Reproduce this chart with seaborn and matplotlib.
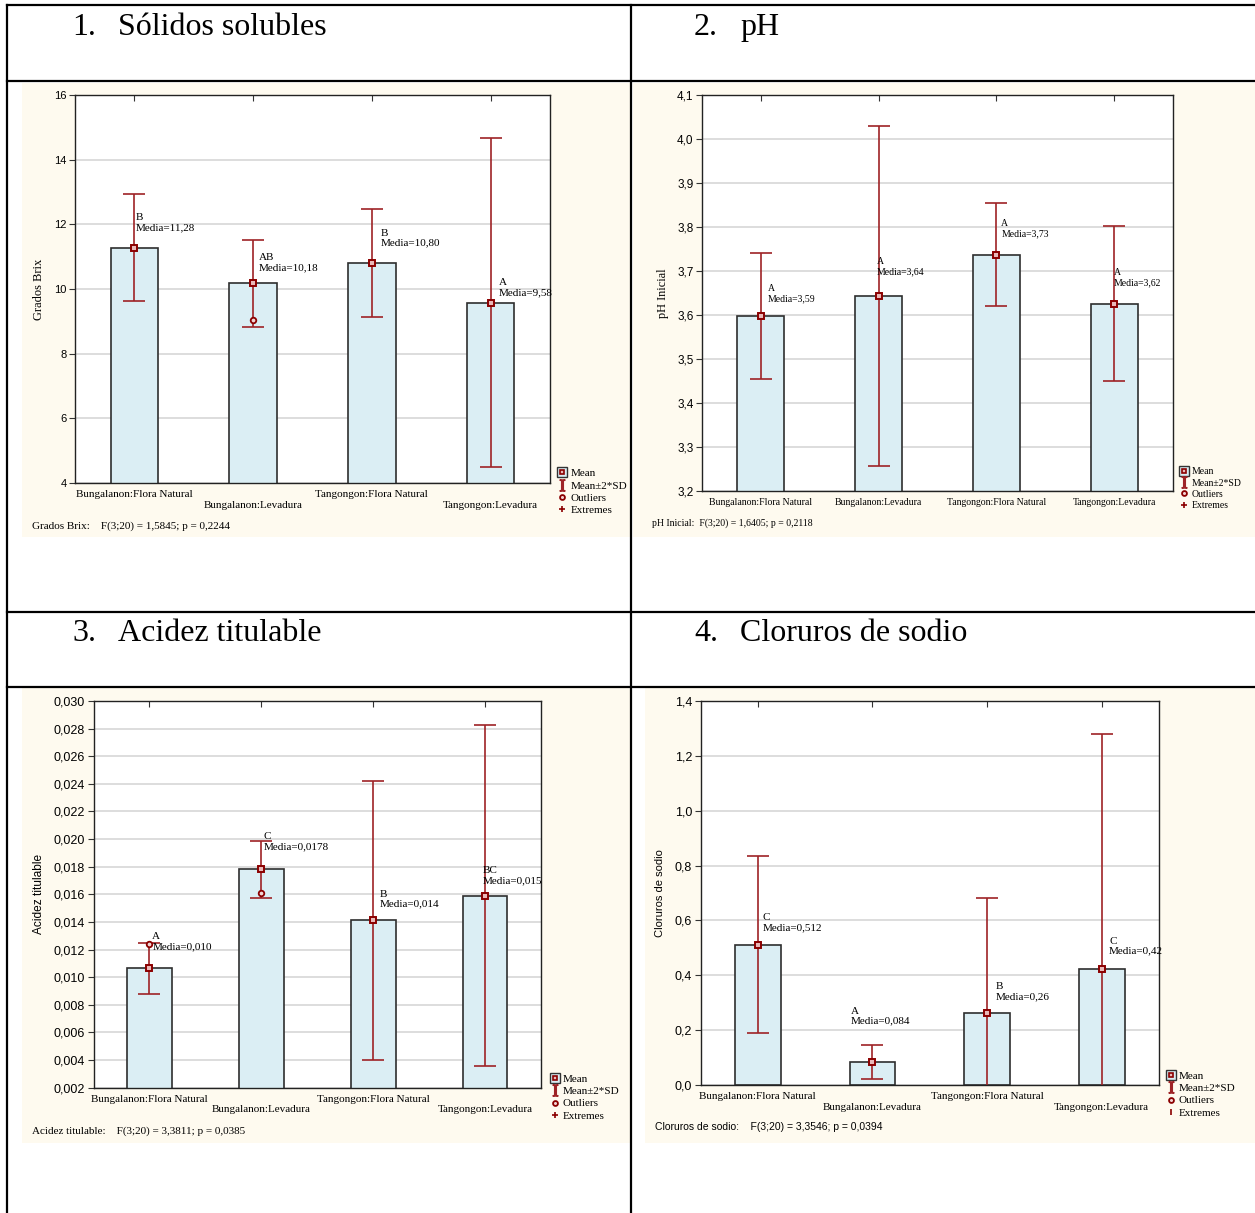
import math

import numpy as np
import pandas as pd
import seaborn as sns
import matplotlib

matplotlib.use("Agg")
import matplotlib.pyplot as plt
from matplotlib.lines import Line2D
from matplotlib.patches import Rectangle
from matplotlib.ticker import FixedLocator, FuncFormatter

# ---------------------------------------------------------------- data
categories = [
    "Bungalanon:Flora Natural",
    "Bungalanon:Levadura",
    "Tangongon:Flora Natural",
    "Tangongon:Levadura",
]

# 1. Sólidos solubles (grados Brix)
brix_mean = [11.28, 10.18, 10.80, 9.58]
brix_two_sd = [1.65, 1.34, 1.67, 5.08]
brix_letters = ["B", "AB", "B", "A"]
brix_decimals = [2, 2, 2, 2]
brix_outlier_group = [1]
brix_outlier_value = [9.04]
brix_anova = "Grados Brix:    F(3;20) = 1,5845; p = 0,2244"

# 2. pH inicial
ph_mean = [3.598, 3.643, 3.7375, 3.626]
ph_two_sd = [0.143, 0.387, 0.1175, 0.176]
ph_letters = ["A", "A", "A", "A"]
ph_decimals = [2, 2, 2, 2]
ph_outlier_group = []
ph_outlier_value = []
ph_anova = "pH Inicial:  F(3;20) = 1,6405; p = 0,2118"

# 3. Acidez titulable
acid_mean = [0.01065, 0.0178, 0.01413, 0.0159]
acid_two_sd = [0.00183, 0.00205, 0.0101, 0.01233]
acid_letters = ["A", "C", "B", "BC"]
acid_decimals = [3, 4, 3, 3]
acid_outlier_group = [0, 1]
acid_outlier_value = [0.01243, 0.01607]
acid_anova = "Acidez titulable:    F(3;20) = 3,3811; p = 0,0385"

# 4. Cloruros de sodio
nacl_mean = [0.512, 0.0845, 0.264, 0.424]
nacl_two_sd = [0.322, 0.0625, 0.417, 0.857]
nacl_letters = ["C", "A", "B", "C"]
nacl_decimals = [3, 3, 2, 2]
nacl_outlier_group = []
nacl_outlier_value = []
nacl_anova = "Cloruros de sodio:    F(3;20) = 3,3546; p = 0,0394"

# ---------------------------------------------------------------- style
W, H = 1255, 1213
SERIF = ["Liberation Serif", "DejaVu Serif"]
SANS = ["Liberation Sans", "DejaVu Sans"]
CREAM = "#fefaef"
BAR_FILL = "#dbeef4"
BAR_EDGE = "#2e2e2e"
ERR = "#9e2326"
DARK_RED = "#8b0000"
GRID = "#dadada"

plt.rcParams["font.family"] = SANS
plt.rcParams["mathtext.fontset"] = "stix"


def fig_rect(l, t, r, b):
    return [l / W, 1 - b / H, (r - l) / W, (b - t) / H]


def comma(v, d):
    return f"{v:.{d}f}".replace(".", ",")


def truncated(v, d):
    return comma(math.floor(v * 10 ** d + 1e-6) / 10 ** d, d)


panels = [
    dict(num="1.", title="Sólidos solubles", head=(72, 118, 35),
         bg=(22, 83, 630, 537), box=(75, 95, 550, 483),
         mean=brix_mean, sd=brix_two_sd, letters=brix_letters, dec=brix_decimals,
         og=brix_outlier_group, ov=brix_outlier_value,
         ylim=(4, 16), step=2, ydec=0,
         ylabel="Grados Brix", yfam=SERIF, ysize=9, ylx=38.7,
         tick_size=8, cat_size=8, stagger=True, note_size=8,
         note_dx=[0.013, 0.05, 0.076, 0.067], note_y=[12.06, 10.81, 11.575, 10.035],
         leg=(559, 468.5), leg_size=8, ext="+",
         anova=brix_anova, an_xy=(32, 525.7), an_fam=SERIF, an_size=8),
    dict(num="2.", title="pH", head=(694, 740, 35),
         bg=(633, 83, 1255, 537), box=(702, 95, 1173, 491),
         mean=ph_mean, sd=ph_two_sd, letters=ph_letters, dec=ph_decimals,
         og=ph_outlier_group, ov=ph_outlier_value,
         ylim=(3.2, 4.1), step=0.1, ydec=1,
         ylabel="pH Inicial", yfam=SERIF, ysize=8.8, ylx=662.7,
         tick_size=8.5, cat_size=7, stagger=False, note_size=7,
         note_dx=[0.059, -0.013, 0.042, 0.0], note_y=[3.648, 3.7095, 3.7965, 3.685],
         leg=(1181.5, 467.5), leg_size=7, ext="+",
         anova=ph_anova, an_xy=(652, 522.7), an_fam=SERIF, an_size=7),
    dict(num="3.", title="Acidez titulable", head=(72, 118, 641),
         bg=(22, 688, 630, 1143), box=(93.5, 701, 541, 1087.7),
         mean=acid_mean, sd=acid_two_sd, letters=acid_letters, dec=acid_decimals,
         og=acid_outlier_group, ov=acid_outlier_value,
         ylim=(0.002, 0.030), step=0.002, ydec=3,
         ylabel="Acidez titulable", yfam=SANS, ysize=8.6, ylx=38.7,
         tick_size=9, cat_size=8, stagger=True, note_size=8,
         note_dx=[0.025, 0.022, 0.06, -0.022],
         note_y=[0.012575, 0.019825, 0.01565, 0.017355],
         leg=(551.5, 1074.2), leg_size=8, ext="+",
         anova=acid_anova, an_xy=(31.7, 1130.7), an_fam=SERIF, an_size=8),
    dict(num="4.", title="Cloruros de sodio", head=(694, 740, 641),
         bg=(645, 688, 1255, 1143), box=(700.5, 701, 1159, 1085),
         mean=nacl_mean, sd=nacl_two_sd, letters=nacl_letters, dec=nacl_decimals,
         og=nacl_outlier_group, ov=nacl_outlier_value,
         ylim=(0.0, 1.4), step=0.2, ydec=1,
         ylabel="Cloruros de sodio", yfam=SANS, ysize=8, ylx=660,
         tick_size=9, cat_size=8, stagger=True, note_size=8,
         note_dx=[0.045, -0.19, 0.074, 0.064], note_y=[0.592, 0.251, 0.3406, 0.506],
         leg=(1167.5, 1071.2), leg_size=8, ext="|",
         anova=nacl_anova, an_xy=(654.7, 1126.7), an_fam=SANS, an_size=7.5),
]

fig = plt.figure(figsize=(W / 100, H / 100), dpi=100)
fig.patch.set_facecolor("white")

# table grid
def hline(y, x0=7, x1=W):
    fig.add_artist(Line2D([x0 / W, x1 / W], [1 - y / H, 1 - y / H],
                          transform=fig.transFigure, color="black", lw=1.6, zorder=-1))


def vline(x, y0=5, y1=H):
    fig.add_artist(Line2D([x / W, x / W], [1 - y0 / H, 1 - y1 / H],
                          transform=fig.transFigure, color="black", lw=1.6, zorder=-1))


for y in (5, 81, 612, 687):
    hline(y)
vline(7)
vline(631)

for p in panels:
    nx, tx, by = p["head"]
    fig.text(nx / W, 1 - by / H, p["num"], family=SERIF, fontsize=23, va="baseline")
    fig.text(tx / W, 1 - by / H, p["title"], family=SERIF, fontsize=23, va="baseline")

    bx0, by0, bx1, by1 = p["bg"]
    fig.add_artist(Rectangle((bx0 / W, 1 - by1 / H), (bx1 - bx0) / W, (by1 - by0) / H,
                             transform=fig.transFigure, facecolor=CREAM,
                             edgecolor="none", zorder=-2))

    l, t, r, b = p["box"]
    ax = fig.add_axes(fig_rect(l, t, r, b))
    ax.set_facecolor("white")

    df = pd.DataFrame({"grupo": categories, "valor": p["mean"]})
    sns.barplot(data=df, x="grupo", y="valor", ax=ax, color=BAR_FILL, saturation=1,
                edgecolor=BAR_EDGE, linewidth=1.2, width=0.4, errorbar=None, zorder=2)

    xs = np.arange(len(categories))
    ax.errorbar(xs, p["mean"], yerr=p["sd"], fmt="none", ecolor=ERR, elinewidth=1.2,
                capsize=8, capthick=1.2, zorder=3)
    ax.plot(xs, p["mean"], ls="none", marker="s", ms=4.2, mfc="#e9b9b9",
            mec=DARK_RED, mew=1.4, zorder=4)
    if p["og"]:
        ax.plot(p["og"], p["ov"], ls="none", marker="o", ms=4, mfc="#f2d4d4",
                mec=DARK_RED, mew=1.3, zorder=4)

    for i in range(len(categories)):
        txt = f"{p['letters'][i]}\nMedia={truncated(p['mean'][i], p['dec'][i])}"
        ax.text(i + p["note_dx"][i], p["note_y"][i], txt, ha="left", va="center",
                family=SERIF, fontsize=p["note_size"], linespacing=1.15, zorder=5)

    lo, hi = p["ylim"]
    ax.set_ylim(lo, hi)
    ticks = np.round(np.arange(lo, hi + p["step"] / 2, p["step"]), 6)
    ax.yaxis.set_major_locator(FixedLocator(ticks))
    ax.yaxis.set_major_formatter(FuncFormatter(lambda v, pos, d=p["ydec"]: comma(v, d)))
    ax.yaxis.grid(True, color=GRID, lw=1.3, zorder=0)
    ax.set_axisbelow(True)

    labels = [c if (i % 2 == 0 or not p["stagger"]) else "\n" + c
              for i, c in enumerate(categories)]
    ax.set_xticks(xs)
    ax.set_xticklabels(labels, family=SERIF, fontsize=p["cat_size"], linespacing=1.25)
    ax.set_xlim(-0.5, len(categories) - 0.5)
    ax.set_xlabel("")

    for lab in ax.get_yticklabels():
        lab.set_fontsize(p["tick_size"])
        lab.set_family(SANS)
    ax.tick_params(axis="y", direction="out", length=4, width=0.8, pad=2, color="#333")
    ax.tick_params(axis="x", direction="in", length=4, width=0.8, top=True, pad=5,
                   color="#333")
    for s in ax.spines.values():
        s.set_color("#222")
        s.set_linewidth(1.0)

    ax.set_ylabel(p["ylabel"], family=p["yfam"], fontsize=p["ysize"])
    ax.yaxis.label.set_va("center")
    ax.yaxis.set_label_coords((p["ylx"] - l) / (r - l), 0.5)

    mean_h = (Line2D([], [], ls="none", marker="s", ms=7, mfc=BAR_FILL, mec="#333", mew=1),
              Line2D([], [], ls="none", marker="s", ms=3.5, mfc="#e9b9b9",
                     mec=DARK_RED, mew=1.2))
    sd_h = Line2D([], [], ls="none", marker=r"$\mathrm{I}$", ms=8, color=ERR)
    out_h = Line2D([], [], ls="none", marker="o", ms=3.5, mfc="#f2d4d4",
                   mec=DARK_RED, mew=1.3)
    ext_h = Line2D([], [], ls="none", marker=p["ext"], ms=4, mec=DARK_RED, mew=1.2)
    lx, ly = p["leg"]
    ax.legend([mean_h, sd_h, out_h, ext_h], ["Mean", "Mean±2*SD", "Outliers", "Extremes"],
              loc="upper left", bbox_to_anchor=(lx / W, 1 - ly / H),
              bbox_transform=fig.transFigure, frameon=False, borderpad=0,
              borderaxespad=0, handlelength=0.6, handletextpad=0.43,
              labelspacing=0.22, prop={"family": SERIF, "size": p["leg_size"]})

    axx, axy = p["an_xy"]
    fig.text(axx / W, 1 - axy / H, p["anova"], family=p["an_fam"],
             fontsize=p["an_size"], va="center", ha="left")

fig.savefig("out.png", dpi=100)
